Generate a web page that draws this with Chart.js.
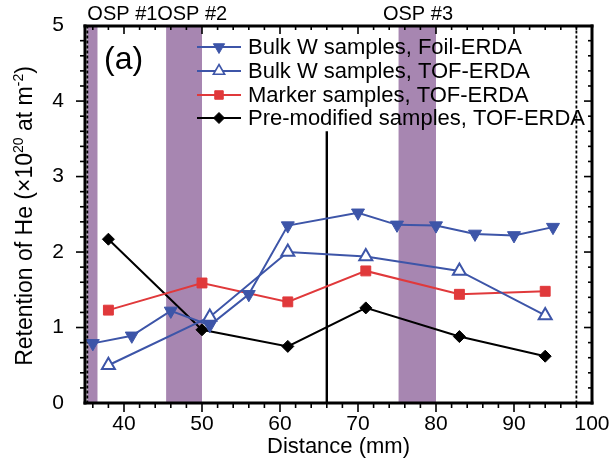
<!DOCTYPE html>
<html>
<head>
<meta charset="utf-8">
<script src="https://cdn.jsdelivr.net/npm/chart.js@4.4.1/dist/chart.umd.min.js"></script>
<style>
  html, body { margin: 0; padding: 0; background: #fff; }
</style>
</head>
<body>
<canvas id="chart" width="613" height="464"></canvas>
<script>
// ── data ──
const foilX   = [36, 41, 46, 51, 56, 61, 70, 75, 80, 85, 90, 95];
const foilY   = [0.79, 0.89, 1.22, 1.03, 1.44, 2.35, 2.52, 2.36, 2.35, 2.24, 2.22, 2.33];
const tofX    = [38, 51, 61, 71, 83, 94];
const tofY    = [0.50, 1.14, 2.00, 1.94, 1.75, 1.16];
const markerX = [38, 50, 61, 71, 83, 94];
const markerY = [1.23, 1.59, 1.34, 1.75, 1.44, 1.48];
const premodX = [38, 50, 61, 71, 83, 94];
const premodY = [2.17, 0.97, 0.75, 1.26, 0.88, 0.62];

const seriesNames = [
  'Bulk W samples, Foil-ERDA',
  'Bulk W samples, TOF-ERDA',
  'Marker samples, TOF-ERDA',
  'Pre-modified samples, TOF-ERDA'
];

const xTicks = [40, 50, 60, 70, 80, 90, 100];
const yTicks = [0, 1, 2, 3, 4, 5];

// OSP shadow regions (mm) and their labels
const ospStart  = [35.3, 45.4, 75.2];
const ospEnd    = [36.6, 50.0, 80.0];
const ospLabels = ['OSP #1', 'OSP #2', 'OSP #3'];
const ospLabelX = [35.3, 44.25, 73.2];

const dashedX = [35.3, 98];
const solidX = 66, solidTop = 3.6;

const FONT = "'Liberation Sans', Arial, sans-serif";
const BLUE = '#3d55a8', RED = '#e0393b', BAND = 'rgb(167,134,177)';

function pts(xs, ys) { return xs.map((x, i) => ({ x, y: ys[i] })); }

function marker(ctx, style, x, y, r, fill, stroke, lw) {
  ctx.save();
  ctx.beginPath();
  if (style === 'down' || style === 'up') {
    const s = style === 'down' ? -1 : 1;
    for (let k = 0; k < 3; k++) {
      const a = (k * 2 * Math.PI) / 3;
      const px = x + Math.sin(a) * r, py = y - s * Math.cos(a) * r;
      k ? ctx.lineTo(px, py) : ctx.moveTo(px, py);
    }
    ctx.closePath();
  } else if (style === 'rect') {
    const h = r * Math.SQRT1_2;
    ctx.rect(x - h, y - h, 2 * h, 2 * h);
  } else {
    ctx.moveTo(x, y - r); ctx.lineTo(x + r, y); ctx.lineTo(x, y + r); ctx.lineTo(x - r, y); ctx.closePath();
  }
  ctx.fillStyle = fill; ctx.fill();
  ctx.lineWidth = lw; ctx.strokeStyle = stroke; ctx.stroke();
  ctx.restore();
}

const decor = {
  id: 'decor',
  beforeDatasetsDraw(chart) {
    const { ctx, chartArea: a, scales: { x, y } } = chart;
    ctx.save();
    ctx.fillStyle = BAND;
    ospStart.forEach((s, i) => {
      const l = x.getPixelForValue(s), r = x.getPixelForValue(ospEnd[i]);
      ctx.fillRect(l, a.top, r - l, a.bottom - a.top);
    });
    ctx.strokeStyle = '#000';
    ctx.lineWidth = 1.8;
    ctx.setLineDash([3, 2]);
    dashedX.forEach(v => {
      const px = x.getPixelForValue(v);
      ctx.beginPath(); ctx.moveTo(px, a.top); ctx.lineTo(px, a.bottom); ctx.stroke();
    });
    ctx.setLineDash([]);
    ctx.lineWidth = 2.4;
    const sx = x.getPixelForValue(solidX);
    ctx.beginPath(); ctx.moveTo(sx, y.getPixelForValue(solidTop)); ctx.lineTo(sx, a.bottom); ctx.stroke();
    ctx.restore();
  },
  afterDraw(chart) {
    const { ctx, scales: { x, y } } = chart;
    const L = Math.round(x.getPixelForValue(35)), R = Math.round(x.getPixelForValue(100));
    const T = Math.round(y.getPixelForValue(5)), B = Math.round(y.getPixelForValue(0));
    ctx.save();
    // frame
    ctx.fillStyle = '#000';
    ctx.fillRect(L - 1.5, T - 1.5, R - L + 3, 3);
    ctx.fillRect(L - 1.5, B - 1.5, R - L + 3, 3);
    ctx.fillRect(L - 1.5, T - 1.5, 3, B - T + 3);
    ctx.fillRect(R - 1.5, T - 1.5, 3, B - T + 3);
    // ticks: outward on bottom/left, inward on top/right
    for (let v = 36; v < 100; v += 2) {
      const px = x.getPixelForValue(v), len = v % 10 === 0 ? 9 : 5;
      ctx.fillRect(px - 0.8, B, 1.6, len);
      ctx.fillRect(px - 0.8, T, 1.6, len - 1);
    }
    for (let k = 1; k < 25; k++) {
      const py = y.getPixelForValue(k * 0.2), len = k % 5 === 0 ? 9 : 5;
      ctx.fillRect(L - len, py - 0.8, len, 1.6);
      ctx.fillRect(R - len + 1, py - 0.8, len - 1, 1.6);
    }
    // OSP labels
    ctx.textBaseline = 'middle';
    ctx.textAlign = 'left';
    ctx.font = '20px ' + FONT;
    ospLabels.forEach((t, i) => ctx.fillText(t, x.getPixelForValue(ospLabelX[i]), 14));
    // panel tag
    ctx.font = '32px ' + FONT;
    ctx.fillText('(a)', 104, 60);
    // legend
    const styles = [
      ['down', BLUE, BLUE, 1],
      ['up', '#fff', BLUE, 1.6],
      ['rect', RED, RED, 1],
      ['diamond', '#000', '#000', 1]
    ];
    const rowY = [47, 71, 95, 118];
    const lineCol = [BLUE, BLUE, RED, '#000'];
    const rad = [6.5, 6.5, 6, 5.5];
    ctx.font = '22px ' + FONT;
    seriesNames.forEach((n, i) => {
      ctx.strokeStyle = lineCol[i];
      ctx.lineWidth = 2;
      ctx.beginPath(); ctx.moveTo(197, rowY[i]); ctx.lineTo(241, rowY[i]); ctx.stroke();
      marker(ctx, styles[i][0], 219, rowY[i], rad[i], styles[i][1], styles[i][2], styles[i][3]);
      ctx.fillStyle = '#000';
      ctx.fillText(n, 248, rowY[i] + 1);
    });
    // y title with superscripts
    const parts = [['Retention of He (\u00d710', 0], ['20', 1], [' at m', 0], ['-2', 1], [')', 0]];
    const big = '23px ' + FONT, small = '14px ' + FONT;
    let w = 0;
    parts.forEach(p => { ctx.font = p[1] ? small : big; w += ctx.measureText(p[0]).width; });
    ctx.translate(26, 216);
    ctx.rotate(-Math.PI / 2);
    let cx = -w / 2;
    parts.forEach(p => {
      ctx.font = p[1] ? small : big;
      ctx.fillText(p[0], cx, p[1] ? -7 : 0);
      cx += ctx.measureText(p[0]).width;
    });
    ctx.restore();
  }
};

new Chart(document.getElementById('chart'), {
  type: 'scatter',
  data: {
    datasets: [
      { label: seriesNames[0], data: pts(foilX, foilY), showLine: true, borderColor: BLUE, backgroundColor: BLUE,
        borderWidth: 2, pointStyle: 'triangle', rotation: 180, pointRadius: 7.5, pointBorderWidth: 1 },
      { label: seriesNames[1], data: pts(tofX, tofY), showLine: true, borderColor: BLUE, backgroundColor: '#fff',
        borderWidth: 2, pointStyle: 'triangle', pointRadius: 7.5, pointBorderWidth: 2 },
      { label: seriesNames[2], data: pts(markerX, markerY), showLine: true, borderColor: RED, backgroundColor: RED,
        borderWidth: 2, pointStyle: 'rect', pointRadius: 7, pointBorderWidth: 1 },
      { label: seriesNames[3], data: pts(premodX, premodY), showLine: true, borderColor: '#000', backgroundColor: '#000',
        borderWidth: 2, pointStyle: 'rectRot', pointRadius: 6, pointBorderWidth: 1 }
    ]
  },
  options: {
    responsive: false,
    animation: false,
    layout: { padding: { top: 24, right: 21, left: 0, bottom: 0 } },
    plugins: { legend: { display: false }, tooltip: { enabled: false } },
    scales: {
      x: {
        type: 'linear', min: 35, max: 100,
        afterBuildTicks: s => { s.ticks = xTicks.map(v => ({ value: v })); },
        afterFit: s => { s.height = 61; },
        grid: { display: false }, border: { display: true, color: '#000', width: 2 },
        title: { display: true, text: 'Distance (mm)', color: '#000', font: { size: 22, family: FONT },
                 padding: { top: 0, bottom: 4 } },
        ticks: { color: '#000', font: { size: 21, family: FONT }, padding: 1, maxRotation: 0 }
      },
      y: {
        min: 0, max: 5,
        afterBuildTicks: s => { s.ticks = yTicks.map(v => ({ value: v })); },
        afterFit: s => { s.width = 85; },
        grid: { display: false }, border: { display: true, color: '#000', width: 2 },
        ticks: { color: '#000', font: { size: 21, family: FONT }, padding: 13 }
      }
    }
  },
  plugins: [decor]
});
</script>
</body>
</html>
